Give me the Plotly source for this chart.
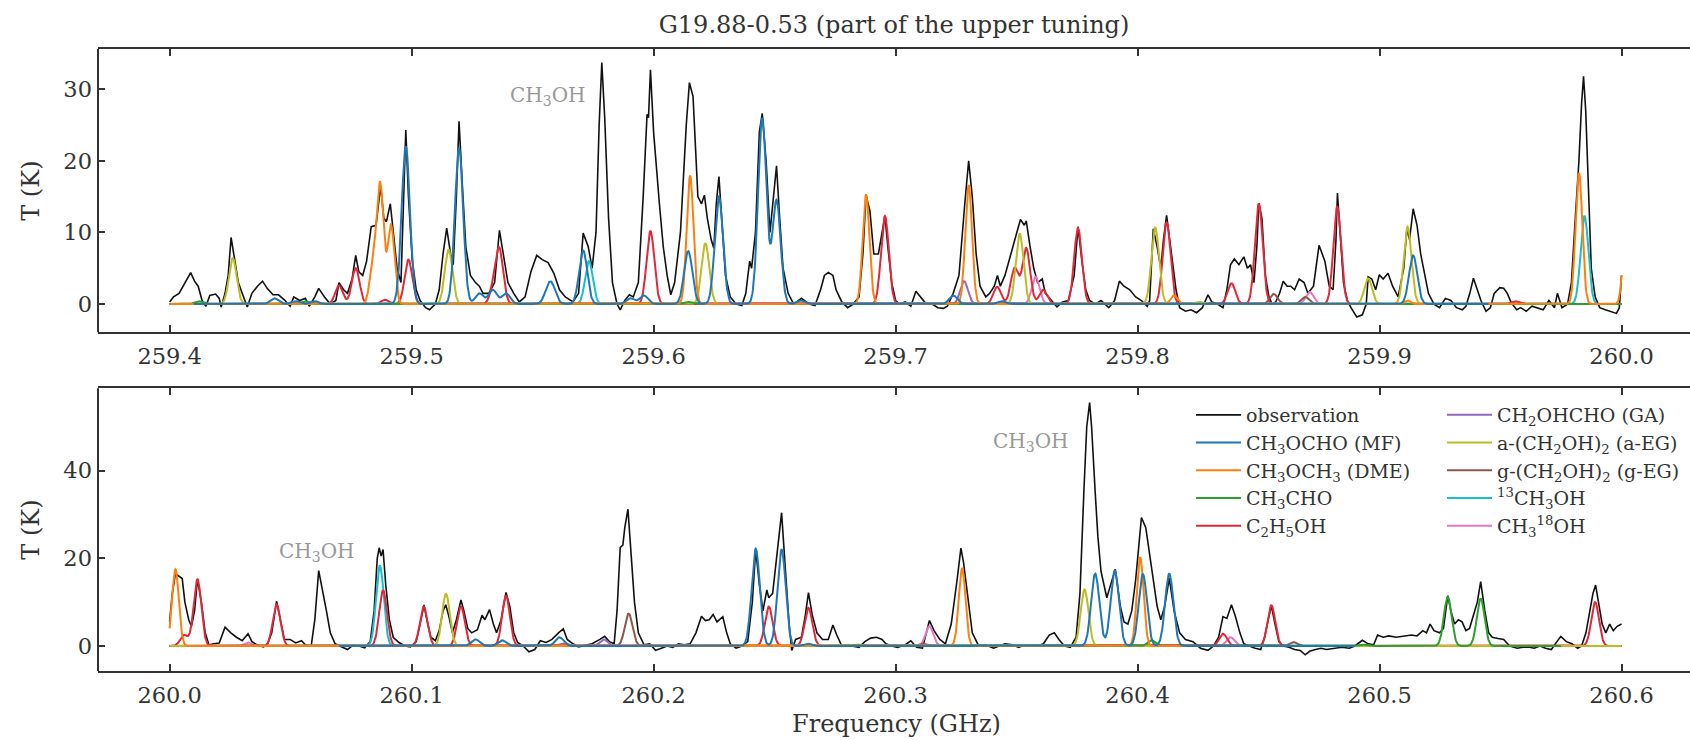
import numpy as np
import plotly.graph_objects as go

# ---------------------------------------------------------------------------
# Observed spectrum (frequency in GHz, brightness temperature in K)
# ---------------------------------------------------------------------------
obs_lo = [
    (259.4000, 0.3), (259.4016, 1.0), (259.4039, 1.5), (259.4063, 3.0), (259.4087, 4.4),
    (259.4103, 3.2), (259.4118, 2.5), (259.4134, 0.5), (259.4150, -0.3), (259.4166, 1.2),
    (259.4190, 1.4), (259.4205, 0.8), (259.4213, -0.4), (259.4229, 1.5), (259.4242, 4.0),
    (259.4254, 9.3), (259.4269, 6.0), (259.4284, 3.0), (259.4300, 1.5), (259.4321, -0.4),
    (259.4340, 1.5), (259.4363, 2.5), (259.4384, 3.2), (259.4403, 2.2), (259.4427, 1.3),
    (259.4450, 1.3), (259.4474, 0.6), (259.4498, -0.3), (259.4513, 1.0), (259.4537, 0.5),
    (259.4561, 0.8), (259.4577, -0.3), (259.4600, 1.0), (259.4616, 2.2), (259.4640, 1.0),
    (259.4664, 0.0), (259.4687, 0.5), (259.4700, 3.0), (259.4719, 2.0), (259.4735, 1.5),
    (259.4754, 3.5), (259.4769, 6.8), (259.4782, 4.5), (259.4798, 4.0), (259.4814, 6.0),
    (259.4833, 10.8), (259.4853, 11.0), (259.4872, 16.5), (259.4885, 12.0), (259.4896, 11.5),
    (259.4912, 14.0), (259.4924, 10.0), (259.4940, 5.0), (259.4956, 3.0), (259.4967, 15.0),
    (259.4976, 24.3), (259.4987, 15.0), (259.5003, 6.0), (259.5019, 2.0), (259.5035, 0.5),
    (259.5058, -0.5), (259.5074, -0.8), (259.5098, 0.0), (259.5114, 2.0), (259.5130, 7.0),
    (259.5145, 10.6), (259.5161, 7.0), (259.5172, 5.5), (259.5185, 15.0), (259.5196, 25.5),
    (259.5209, 17.0), (259.5224, 8.0), (259.5243, 4.0), (259.5264, 3.0), (259.5280, 2.5),
    (259.5295, 1.5), (259.5319, 1.5), (259.5343, 3.0), (259.5363, 10.3), (259.5382, 6.0),
    (259.5398, 3.0), (259.5422, 1.5), (259.5445, 0.3), (259.5469, 1.0), (259.5493, 4.5),
    (259.5517, 6.8), (259.5540, 6.2), (259.5564, 5.8), (259.5588, 4.3), (259.5611, 2.0),
    (259.5635, 1.0), (259.5667, 0.3), (259.5690, 1.5), (259.5709, 9.9), (259.5730, 8.0),
    (259.5746, 5.0), (259.5762, 10.0), (259.5775, 25.0), (259.5786, 33.7), (259.5798, 26.0),
    (259.5814, 12.0), (259.5830, 3.0), (259.5849, 0.0), (259.5862, -0.8), (259.5881, 0.5),
    (259.5900, 1.3), (259.5916, 1.0), (259.5937, 3.0), (259.5957, 15.0), (259.5973, 26.5),
    (259.5979, 26.0), (259.5987, 32.7), (259.6000, 24.0), (259.6024, 14.0), (259.6040, 8.0),
    (259.6056, 4.0), (259.6071, 1.3), (259.6087, 3.0), (259.6111, 10.0), (259.6135, 25.0),
    (259.6148, 30.9), (259.6163, 29.0), (259.6183, 15.0), (259.6198, 14.0), (259.6210, 15.2),
    (259.6222, 12.0), (259.6238, 9.0), (259.6249, 7.8), (259.6259, 14.0), (259.6270, 17.8),
    (259.6281, 12.0), (259.6297, 4.0), (259.6317, 1.0), (259.6341, 0.0), (259.6365, -0.2),
    (259.6381, 1.5), (259.6397, 6.0), (259.6405, 5.0), (259.6421, 10.0), (259.6437, 24.0),
    (259.6449, 26.6), (259.6465, 20.0), (259.6481, 10.0), (259.6497, 16.0), (259.6508, 19.3),
    (259.6521, 12.0), (259.6535, 5.0), (259.6556, 1.5), (259.6579, 0.0), (259.6611, 0.8),
    (259.6643, 0.0), (259.6667, -0.2), (259.6690, 2.0), (259.6706, 4.0), (259.6722, 4.4),
    (259.6741, 4.0), (259.6754, 2.0), (259.6778, 0.3), (259.6802, -0.5), (259.6825, 0.0),
    (259.6849, 1.0), (259.6865, 7.0), (259.6878, 15.2), (259.6894, 13.0), (259.6910, 7.0),
    (259.6929, 7.0), (259.6956, 12.3), (259.6968, 8.0), (259.6984, 3.0), (259.7000, 0.5),
    (259.7016, 0.0), (259.7040, 0.3), (259.7063, -0.3), (259.7084, 1.8), (259.7103, 1.0),
    (259.7127, 0.0), (259.7151, 0.0), (259.7175, -0.5), (259.7198, -0.6), (259.7214, -0.3),
    (259.7238, 1.5), (259.7262, 4.0), (259.7286, 14.0), (259.7302, 20.0), (259.7317, 15.0),
    (259.7333, 7.0), (259.7349, 2.5), (259.7373, 1.0), (259.7389, 1.5), (259.7408, 2.5),
    (259.7421, 4.0), (259.7433, 2.5), (259.7452, 4.0), (259.7476, 7.0), (259.7500, 10.0),
    (259.7516, 11.8), (259.7532, 11.0), (259.7540, 11.6), (259.7556, 8.0), (259.7571, 5.0),
    (259.7587, 3.0), (259.7606, 3.5), (259.7619, 1.5), (259.7643, 0.5), (259.7667, -0.4),
    (259.7690, 0.3), (259.7714, 0.5), (259.7738, 4.0), (259.7754, 10.8), (259.7770, 6.0),
    (259.7786, 2.0), (259.7802, 0.5), (259.7825, 0.0), (259.7849, 0.5), (259.7881, -0.5),
    (259.7905, 0.5), (259.7925, 3.2), (259.7944, 2.5), (259.7968, 2.0), (259.7992, 1.0),
    (259.8016, 0.5), (259.8040, -0.3), (259.8050, 0.5), (259.8065, 10.5), (259.8081, 8.0),
    (259.8096, 5.0), (259.8107, 9.0), (259.8120, 12.4), (259.8132, 9.0), (259.8145, 5.5),
    (259.8159, 2.0), (259.8174, -0.5), (259.8198, -1.0), (259.8221, -0.8), (259.8244, -1.2),
    (259.8268, -0.5), (259.8291, 1.3), (259.8307, 0.3), (259.8330, 0.0), (259.8353, -0.5),
    (259.8369, 2.0), (259.8384, 5.5), (259.8400, 6.3), (259.8419, 5.5), (259.8439, 6.6),
    (259.8454, 5.0), (259.8467, 5.5), (259.8481, 3.0), (259.8493, 8.0), (259.8501, 14.1),
    (259.8514, 12.0), (259.8528, 4.0), (259.8543, 1.0), (259.8556, 0.0), (259.8571, 0.3),
    (259.8587, 1.5), (259.8602, 3.2), (259.8618, 2.5), (259.8633, 2.5), (259.8649, 2.0),
    (259.8668, 3.5), (259.8688, 3.0), (259.8704, 1.5), (259.8727, 2.5), (259.8750, 8.2),
    (259.8774, 6.0), (259.8792, 2.5), (259.8808, 2.0), (259.8820, 9.0), (259.8826, 15.5),
    (259.8836, 10.0), (259.8851, 3.0), (259.8867, 0.5), (259.8882, -0.5), (259.8906, -1.8),
    (259.8929, -1.5), (259.8945, 0.0), (259.8953, 3.8), (259.8968, 3.5), (259.8984, 2.0),
    (259.8999, 4.1), (259.9015, 3.5), (259.9035, 4.3), (259.9054, 2.5), (259.9077, 1.0),
    (259.9100, 5.0), (259.9113, 10.5), (259.9124, 9.0), (259.9139, 13.3), (259.9155, 11.0),
    (259.9170, 7.0), (259.9186, 4.0), (259.9202, 1.5), (259.9225, 0.0), (259.9248, -0.5),
    (259.9272, 0.8), (259.9295, 0.5), (259.9318, -0.5), (259.9342, -0.8), (259.9357, -0.3),
    (259.9373, 1.5), (259.9388, 3.6), (259.9404, 2.0), (259.9419, 0.5), (259.9440, -1.0),
    (259.9458, -0.5), (259.9474, 1.5), (259.9497, 2.3), (259.9513, 2.2), (259.9528, 1.5),
    (259.9544, 0.2), (259.9567, -0.8), (259.9583, -0.5), (259.9606, -1.0), (259.9630, -0.3),
    (259.9653, -0.5), (259.9676, -0.8), (259.9700, 0.5), (259.9723, -0.5), (259.9735, 1.5),
    (259.9754, -0.5), (259.9777, 0.0), (259.9793, 3.0), (259.9809, 12.0), (259.9824, 20.0),
    (259.9835, 28.0), (259.9843, 31.8), (259.9852, 27.0), (259.9863, 15.0), (259.9875, 5.0),
    (259.9891, 1.0), (259.9910, -0.5), (259.9933, -0.8), (259.9956, -1.0), (259.9979, -1.3),
    (259.9991, -0.5), (260.0000, 4.0),
]

obs_hi = [
    (260.0000, 5.5), (260.0011, 12.0), (260.0024, 16.5), (260.0039, 16.0), (260.0052, 15.4),
    (260.0063, 10.0), (260.0079, 6.0), (260.0090, 4.5), (260.0103, 8.0), (260.0115, 15.3),
    (260.0131, 10.0), (260.0147, 3.0), (260.0163, 0.2), (260.0182, 0.5), (260.0205, 0.7),
    (260.0229, 4.3), (260.0253, 3.0), (260.0276, 2.0), (260.0300, 1.2), (260.0324, 2.8),
    (260.0340, 1.0), (260.0363, 0.2), (260.0387, -0.2), (260.0403, 0.2), (260.0422, 3.0),
    (260.0442, 10.2), (260.0458, 6.0), (260.0474, 1.5), (260.0498, 1.5), (260.0521, 0.7),
    (260.0545, 1.2), (260.0561, 0.3), (260.0585, 0.0), (260.0600, 6.0), (260.0616, 17.2),
    (260.0632, 13.0), (260.0648, 8.0), (260.0664, 3.0), (260.0684, 0.5), (260.0703, 0.0),
    (260.0735, -0.8), (260.0758, 0.2), (260.0782, 0.0), (260.0806, -0.4), (260.0829, 1.0),
    (260.0845, 8.0), (260.0858, 20.0), (260.0866, 22.4), (260.0874, 20.5), (260.0882, 22.0),
    (260.0893, 14.0), (260.0908, 6.0), (260.0924, 2.0), (260.0948, 0.8), (260.0972, 0.0),
    (260.0995, -0.2), (260.1019, 1.0), (260.1035, 5.0), (260.1051, 9.4), (260.1063, 6.0),
    (260.1079, 2.0), (260.1098, 1.2), (260.1114, 3.5), (260.1130, 8.0), (260.1141, 9.4),
    (260.1153, 7.0), (260.1169, 3.0), (260.1185, 6.0), (260.1204, 10.5), (260.1216, 8.0),
    (260.1232, 4.0), (260.1248, 3.0), (260.1272, 3.7), (260.1291, 7.0), (260.1303, 6.0),
    (260.1322, 8.3), (260.1338, 5.0), (260.1351, 3.0), (260.1370, 6.0), (260.1390, 12.2),
    (260.1406, 9.0), (260.1422, 3.0), (260.1438, 0.8), (260.1461, 0.0), (260.1485, -1.3),
    (260.1509, -0.8), (260.1532, 1.2), (260.1556, 0.8), (260.1580, 1.5), (260.1607, 3.0),
    (260.1627, 3.9), (260.1643, 1.5), (260.1667, 0.5), (260.1690, -0.2), (260.1722, 0.2),
    (260.1746, 0.5), (260.1778, 1.5), (260.1798, 2.2), (260.1817, 1.0), (260.1837, 0.5),
    (260.1849, 8.0), (260.1862, 22.5), (260.1873, 23.0), (260.1881, 27.0), (260.1894, 31.2),
    (260.1905, 22.0), (260.1921, 10.0), (260.1937, 3.0), (260.1960, 0.3), (260.1984, 0.5),
    (260.2008, -1.0), (260.2032, -0.5), (260.2056, 0.0), (260.2079, -0.3), (260.2103, 0.5),
    (260.2127, 0.3), (260.2151, 0.5), (260.2175, 3.0), (260.2198, 6.8), (260.2214, 5.8),
    (260.2230, 6.0), (260.2246, 7.2), (260.2262, 5.5), (260.2286, 6.7), (260.2302, 3.0),
    (260.2317, 0.5), (260.2341, -0.5), (260.2365, 0.0), (260.2389, 1.0), (260.2408, 10.0),
    (260.2422, 22.0), (260.2437, 14.0), (260.2452, 8.0), (260.2468, 12.8), (260.2476, 11.0),
    (260.2492, 12.0), (260.2508, 20.0), (260.2529, 30.4), (260.2544, 18.0), (260.2560, 5.0),
    (260.2571, -1.0), (260.2587, 1.5), (260.2611, 2.0), (260.2627, 7.0), (260.2640, 12.2),
    (260.2656, 7.0), (260.2675, 3.0), (260.2698, 1.5), (260.2722, 1.5), (260.2741, 4.8),
    (260.2757, 2.5), (260.2778, 0.0), (260.2802, 0.2), (260.2825, 0.0), (260.2849, -0.3),
    (260.2873, 1.0), (260.2897, 1.8), (260.2921, 2.0), (260.2944, 1.5), (260.2960, 0.5),
    (260.2984, 0.0), (260.3008, -0.3), (260.3040, 0.3), (260.3063, 1.2), (260.3087, -0.3),
    (260.3111, -0.5), (260.3127, 3.0), (260.3140, 5.8), (260.3159, 3.5), (260.3183, 1.5),
    (260.3206, 0.5), (260.3230, 5.0), (260.3254, 15.0), (260.3270, 22.3), (260.3281, 19.0),
    (260.3297, 12.0), (260.3317, 3.0), (260.3341, 0.3), (260.3373, 0.2), (260.3405, -0.5),
    (260.3429, 0.0), (260.3452, 0.5), (260.3484, 0.3), (260.3508, -0.3), (260.3532, 0.2),
    (260.3563, 0.0), (260.3587, 0.0), (260.3611, 0.5), (260.3635, 2.5), (260.3656, 3.0),
    (260.3675, 1.5), (260.3698, 0.0), (260.3722, -0.3), (260.3746, 2.0), (260.3762, 12.0),
    (260.3778, 35.0), (260.3790, 50.0), (260.3802, 55.5), (260.3810, 50.0), (260.3825, 35.0),
    (260.3836, 25.0), (260.3849, 17.0), (260.3873, 11.0), (260.3889, 14.0), (260.3908, 17.5),
    (260.3929, 9.0), (260.3944, 5.5), (260.3960, 5.0), (260.3976, 8.0), (260.3992, 15.0),
    (260.4016, 29.3), (260.4034, 27.0), (260.4050, 21.0), (260.4065, 15.0), (260.4081, 9.0),
    (260.4096, 6.0), (260.4112, 9.0), (260.4131, 15.5), (260.4151, 8.0), (260.4174, 3.0),
    (260.4198, 1.5), (260.4229, 1.0), (260.4260, -0.5), (260.4291, -1.0), (260.4314, 0.0),
    (260.4335, 2.0), (260.4353, 6.7), (260.4369, 6.3), (260.4388, 9.4), (260.4403, 7.0),
    (260.4423, 3.0), (260.4439, 0.5), (260.4462, 0.0), (260.4486, -0.5), (260.4509, -0.8),
    (260.4525, 2.0), (260.4540, 6.0), (260.4553, 9.2), (260.4568, 5.0), (260.4584, 1.0),
    (260.4602, 0.0), (260.4626, -0.3), (260.4649, -0.8), (260.4672, -1.0), (260.4693, -2.0),
    (260.4711, -1.2), (260.4735, -0.8), (260.4758, -0.5), (260.4781, -0.8), (260.4812, -0.5),
    (260.4844, -0.3), (260.4875, -0.5), (260.4898, 0.0), (260.4929, 1.3), (260.4953, 0.5),
    (260.4976, 0.3), (260.4992, 2.5), (260.5015, 2.0), (260.5038, 2.3), (260.5069, 2.0),
    (260.5100, 2.3), (260.5132, 2.5), (260.5155, 2.3), (260.5179, 3.5), (260.5194, 3.0),
    (260.5209, 5.0), (260.5225, 3.5), (260.5248, 3.0), (260.5264, 4.0), (260.5282, 11.5),
    (260.5295, 8.0), (260.5310, 5.0), (260.5326, 6.0), (260.5341, 5.5), (260.5357, 3.5),
    (260.5372, 4.0), (260.5388, 7.0), (260.5404, 10.0), (260.5418, 14.7), (260.5435, 8.0),
    (260.5451, 3.0), (260.5466, 2.0), (260.5490, 1.7), (260.5513, 1.5), (260.5538, 0.0),
    (260.5569, -0.5), (260.5592, -0.3), (260.5616, -0.2), (260.5639, -0.5), (260.5663, 0.0),
    (260.5686, -0.5), (260.5710, -0.8), (260.5733, 1.0), (260.5749, 2.2), (260.5772, 1.0),
    (260.5795, 0.5), (260.5819, -0.5), (260.5835, 0.0), (260.5853, 3.0), (260.5866, 7.0),
    (260.5882, 12.0), (260.5893, 13.9), (260.5906, 10.0), (260.5920, 5.0), (260.5935, 3.0),
    (260.5951, 5.0), (260.5966, 3.5), (260.5982, 4.5), (260.6000, 5.0),
]

# ---------------------------------------------------------------------------
# Synthetic line lists: (rest frequency GHz, peak temperature K) per species
# ---------------------------------------------------------------------------
mf_lines = [
    (259.4434, 0.8), (259.4520, 0.4), (259.4600, 0.4), (259.4976, 22.0), (259.5196, 21.8),
    (259.5280, 1.5), (259.5335, 2.0), (259.5390, 1.5), (259.5565, 1.8), (259.5582, 1.8),
    (259.5709, 7.5), (259.5905, 0.8), (259.5960, 1.2), (259.6143, 7.4), (259.6270, 15.0),
    (259.6449, 26.0), (259.6508, 14.5), (259.6610, 0.5), (259.7238, 1.2), (259.7440, 0.4),
    (259.9139, 6.8), (260.1264, 1.5), (260.1374, 1.3), (260.1611, 2.0), (260.2422, 22.2),
    (260.2529, 22.0), (260.2640, 0.5), (260.3825, 16.5), (260.3906, 17.2), (260.4022, 16.4),
    (260.4131, 16.5),
]
dme_lines = [
    (259.4840, 5.0), (259.4870, 16.5), (259.4915, 11.0), (259.6151, 17.9), (259.6878, 15.3),
    (259.7302, 16.6), (259.8151, 1.2), (259.9116, 0.5), (259.9824, 18.3), (260.0024, 17.5),
    (260.3275, 17.7), (260.4011, 20.2),
]
ch3cho_lines = [
    (259.4120, 0.4), (259.4560, 0.4), (259.6140, 0.3), (260.2840, 0.3), (260.4058, 1.3),
    (260.4930, 0.3), (260.5282, 11.2), (260.5418, 10.8),
]
c2h5oh_lines = [
    (259.4700, 2.6), (259.4769, 5.0), (259.4890, 0.6), (259.4987, 6.2), (259.5340, 2.0),
    (259.5363, 7.2), (259.5987, 10.2), (259.6956, 12.3), (259.7420, 2.4), (259.7492, 5.0),
    (259.7540, 7.8), (259.7610, 2.0), (259.7754, 10.6), (259.8120, 11.4), (259.8388, 2.9),
    (259.8501, 14.0), (259.8825, 13.6), (259.9560, 0.4), (260.0060, 2.5), (260.0115, 15.2),
    (260.0442, 9.5), (260.0882, 12.7), (260.1050, 9.0), (260.1204, 9.0), (260.1390, 11.4),
    (260.2476, 9.0), (260.2640, 8.7), (260.3110, 0.5), (260.4353, 2.8), (260.4553, 9.3),
    (260.5891, 10.0),
]
ga_lines = [(259.7283, 3.2), (260.1625, 0.6), (260.1794, 1.5)]
aeg_lines = [
    (259.4261, 6.4), (259.5153, 7.6), (259.6214, 8.5), (259.7513, 9.8), (259.8073, 10.7),
    (259.8250, 0.3), (259.8953, 3.6), (259.9116, 10.8), (260.1142, 11.9), (260.3781, 12.9),
]
geg_lines = [(259.8563, 1.4), (259.8693, 1.0), (260.1897, 7.4), (260.4644, 0.9)]
c13_lines = [(259.5733, 6.0), (259.9847, 12.3), (260.0869, 18.3)]
o18_lines = [(259.7579, 3.8), (259.8711, 1.7), (260.0324, 0.8), (260.3140, 4.5), (260.4384, 2.0)]

# Gaussian line widths (sigma, GHz) used for each synthetic spectrum
mf_sigma, dme_sigma, other_sigma = 0.0017, 0.0014, 0.0016

# Frequency span over which each model was computed, lower / upper band
full_lo, full_hi = (259.40, 260.00), (260.00, 260.60)
mf_span = [(259.41, 259.945), (260.07, 260.49)]
dme_span = [full_lo, (260.00, 260.42)]
ch3cho_span = [full_lo, (260.27, 260.575)]
full_span = [full_lo, full_hi]

# Species: legend label, colour, line list, width, span, legend column, legend rank
species = [
    ("CH<sub>3</sub><sup>18</sup>OH", "#e377c2", o18_lines, other_sigma, full_span, "legend2", 10),
    ("<sup>13</sup>CH<sub>3</sub>OH", "#17becf", c13_lines, other_sigma, full_span, "legend2", 9),
    ("g-(CH<sub>2</sub>OH)<sub>2</sub> (g-EG)", "#8c564b", geg_lines, other_sigma, full_span, "legend2", 8),
    ("CH<sub>2</sub>OHCHO (GA)", "#9467bd", ga_lines, other_sigma, full_span, "legend2", 6),
    ("C<sub>2</sub>H<sub>5</sub>OH", "#e0283a", c2h5oh_lines, other_sigma, full_span, "legend", 5),
    ("a-(CH<sub>2</sub>OH)<sub>2</sub> (a-EG)", "#bcbd22", aeg_lines, other_sigma, full_span, "legend2", 7),
    ("CH<sub>3</sub>CHO", "#2ca02c", ch3cho_lines, other_sigma, ch3cho_span, "legend", 4),
    ("CH<sub>3</sub>OCH<sub>3</sub> (DME)", "#ff7f0e", dme_lines, dme_sigma, dme_span, "legend", 3),
    ("CH<sub>3</sub>OCHO (MF)", "#1f77b4", mf_lines, mf_sigma, mf_span, "legend", 2),
]

bands = [full_lo, full_hi]
axes = [("x", "y"), ("x2", "y2")]


def synthetic(grid, lines, sigma):
    """Sum of Gaussian line profiles evaluated on a frequency grid."""
    total = np.zeros_like(grid)
    for centre, peak in lines:
        total += peak * np.exp(-0.5 * ((grid - centre) / sigma) ** 2)
    return total


FONT = "DejaVu Serif"
INK = "#333333"

fig = go.Figure()

for i, ((lo, hi), (xa, ya), obs) in enumerate(zip(bands, axes, [obs_lo, obs_hi])):
    f_obs, t_obs = zip(*obs)
    fig.add_trace(go.Scatter(
        x=f_obs, y=t_obs, mode="lines", name="observation",
        line=dict(color="#111111", width=1.6), xaxis=xa, yaxis=ya,
        legend="legend", legendgroup="observation", legendrank=1, showlegend=(i == 0),
    ))
    grid = np.linspace(lo, hi, 3001)
    for label, color, lines, sigma, span, leg, rank in species:
        s_lo, s_hi = span[i]
        model = synthetic(grid, lines, sigma)
        model[(grid < s_lo - 1e-9) | (grid > s_hi + 1e-9)] = np.nan
        fig.add_trace(go.Scatter(
            x=grid, y=model, mode="lines", name=label,
            line=dict(color=color, width=2.0), xaxis=xa, yaxis=ya,
            legend=leg, legendgroup=label, legendrank=rank, showlegend=(i == 0),
        ))

# Figure geometry (pixels)
W, H = 1690, 740
ML, MR, MT, MB = 98, 0, 49, 69
plot_h = H - MT - MB

tick_font = dict(family=FONT, size=22.5, color=INK)
xcommon = dict(
    ticks="inside", ticklen=7, tickwidth=1.5, tickcolor=INK, showline=True, linewidth=2,
    linecolor=INK, mirror="ticks", showgrid=False, zeroline=False, dtick=0.1,
    tickformat=".1f", tickfont=tick_font, ticklabelstandoff=3,
)
ycommon = dict(
    ticks="inside", ticklen=7, tickwidth=1.5, tickcolor=INK, showline=False,
    showgrid=False, zeroline=False, tickfont=tick_font, ticklabelstandoff=5,
)

legend_top = (H - MB - 396) / plot_h
legend_common = dict(
    y=legend_top, xanchor="left", yanchor="top",
    font=dict(family=FONT, size=19, color=INK), bgcolor="rgba(0,0,0,0)",
    itemwidth=45, tracegroupgap=1.5, traceorder="normal",
)

fig.update_layout(
    width=W, height=H, margin=dict(l=ML, r=MR, t=MT, b=MB),
    paper_bgcolor="white", plot_bgcolor="white",
    font=dict(family=FONT, color=INK),
    xaxis=dict(domain=[0, 1], anchor="y", range=[259.3704, 260.0283], tick0=259.4, **xcommon),
    yaxis=dict(domain=[0.5445, 1.0], anchor="x", range=[-3.94, 35.6], tickvals=[0, 10, 20, 30], **ycommon),
    xaxis2=dict(domain=[0, 1], anchor="y2", range=[259.9704, 260.6283], tick0=260.0, **xcommon),
    yaxis2=dict(domain=[0, 0.4545], anchor="x2", range=[-5.70, 58.77], tickvals=[0, 20, 40], **ycommon),
    title=dict(
        text="G19.88-0.53 (part of the upper tuning)", font=dict(family=FONT, size=24, color=INK),
        x=0.5, xref="paper", xanchor="center", y=1 - 25 / H, yref="container", yanchor="middle",
    ),
    legend=dict(x=(1191 - ML) / (W - ML - MR), **legend_common),
    legend2=dict(x=(1442 - ML) / (W - ML - MR), **legend_common),
    showlegend=True,
)

# Left spines of both panels
for yref in ["y domain", "y2 domain"]:
    fig.add_shape(type="line", xref="paper", x0=0, x1=0, yref=yref, y0=0, y1=1,
                  line=dict(color=INK, width=2))

# Axis titles
for ymid in [(H - MB - 190.8) / plot_h, (H - MB - 529.7) / plot_h]:
    fig.add_annotation(text="T (K)", xref="paper", yref="paper", x=(31 - ML) / (W - ML - MR),
                       y=ymid, textangle=-90, showarrow=False, xanchor="center", yanchor="middle",
                       font=dict(family=FONT, size=24, color=INK))
fig.add_annotation(text="Frequency (GHz)", xref="paper", yref="paper", x=0.5013,
                   y=(H - MB - 724) / plot_h, showarrow=False, xanchor="center", yanchor="middle",
                   font=dict(family=FONT, size=24, color=INK))

# Methanol line labels
ch3oh_labels = [("x", "y", 259.5562, 29.0), ("x2", "y2", 260.0610, 21.4), ("x2", "y2", 260.3558, 46.6)]
for xr, yr, fx, ty in ch3oh_labels:
    fig.add_annotation(text="CH<sub>3</sub>OH", xref=xr, yref=yr, x=fx, y=ty, showarrow=False,
                       xanchor="center", yanchor="middle",
                       font=dict(family=FONT, size=20, color="#999999"))

fig.write_html("out.html")
